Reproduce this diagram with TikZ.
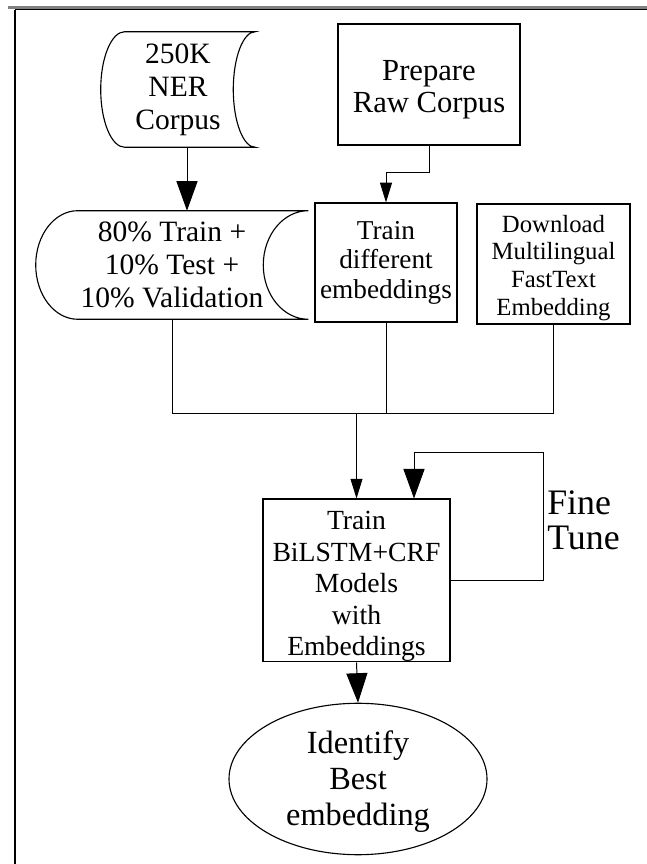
\documentclass[tikz,border=0pt]{standalone}
\usepackage{fontspec}
\setmainfont{Liberation Serif}
\usepackage{tikz}
\usetikzlibrary{arrows.meta, calc, shapes.geometric}

% outline of a stored-data node: convex left side, concave right side
\newcommand{\storeoutline}[3]{%
    \draw[line width=0.8pt] let \p1=(#1.north), \p2=(#1.south), \n1={(\y1-\y2)/2} in
        (#1.north east) arc[start angle=90, end angle=270, x radius=#3, y radius=\n1]
        -- ([xshift=#2]#1.south west) arc[start angle=270, end angle=90, x radius=#2, y radius=\n1]
        -- cycle;
}
% taller first line, pushes the text block down a little
\newcommand{\firstline}[1]{\rule{0pt}{#1}}

\tikzset{
    stepbox/.style={draw, line width=0.8pt, inner sep=0pt, align=center},
    storebox/.style={inner sep=0pt, align=center},
    link/.style={line width=0.7pt},
    arr/.style={link, -{Triangle[width=8.5pt, length=14pt]}},
    bigarr/.style={link, -{Triangle[width=15pt, length=21pt]}}
}

\begin{document}
\begin{tikzpicture}
    \useasboundingbox (0,0) rectangle (16.175,21.6);

    % page frame
    \draw[gray, line width=2pt] (0.2,21.4125) -- (16.175,21.4125);
    \draw[line width=0.7pt] (0.375,21.35) -- (16.175,21.35);
    \draw[line width=1.2pt] (0.375,21.35) -- (0.375,0);

    % Data
    \node[storebox, minimum width=3.85cm, minimum height=2.875cm, font=\fontsize{21}{23.5}\selectfont]
        (corpus) at (4.45,19.3625) {250K\\NER\\Corpus};
    \storeoutline{corpus}{0.6cm}{0.55cm}

    \node[storebox, minimum width=6.8cm, minimum height=2.7cm, font=\fontsize{21}{23.5}\selectfont]
        (split) at (4.3,14.975) {80\% Train +\\10\% Test +\\10\% Validation};
    \storeoutline{split}{1.05cm}{1.125cm}

    % Embeddings
    \node[stepbox, minimum width=4.55cm, minimum height=3.025cm, font=\fontsize{21.8}{22.7}\selectfont]
        (prep) at (10.725,19.4875) {\firstline{22pt}Prepare\\Raw Corpus};
    \node[stepbox, minimum width=3.55cm, minimum height=2.975cm, font=\fontsize{19.4}{21}\selectfont]
        (embed) at (9.65,15.0375) {Train\\different\\embeddings};
    \node[stepbox, minimum width=3.825cm, minimum height=3cm, font=\fontsize{17.6}{19.6}\selectfont]
        (fasttext) at (13.8375,15) {\firstline{17.6pt}Download\\Multilingual\\FastText\\Embedding};

    % Model
    \node[stepbox, minimum width=4.675cm, minimum height=3.775cm, font=\fontsize{19.7}{22.4}\selectfont]
        (bilstm) at (8.9125,7.0875) {\firstline{22pt}Train\\BiLSTM+CRF\\Models\\with\\Embeddings};
    \node[draw, ellipse, line width=0.8pt, inner sep=0pt, align=center,
          minimum width=6.45cm, minimum height=3.15cm, font=\fontsize{23}{25.6}\selectfont]
        (best) at (8.95,2.125) {\firstline{20pt}Identify\\Best\\embedding};
    \node[inner sep=0pt, align=left, anchor=west, font=\fontsize{25.5}{25}\selectfont]
        (tune) at (13.675,8.6) {Fine\\Tune};

    % Connectors
    \coordinate (join) at (8.9125,11.25);
    \coordinate (loop) at (13.575,10.3);

    \draw[bigarr] ([xshift=0.225cm]corpus.south) -- ([xshift=0.225cm]corpus.south |- split.north);
    \draw[arr] (prep.south) -- ++(0,-0.675) -| (embed.north);
    \draw[link] (split.south) |- (join);
    \draw[link] (embed.south) |- (join);
    \draw[link] (fasttext.south) |- (join);
    \draw[arr] (join) -- (bilstm.north);
    \draw[bigarr] (bilstm.east) -| (loop) -| ([xshift=1.4375cm]bilstm.north);
    \draw[bigarr] (bilstm.south) -- (best.north);
\end{tikzpicture}
\end{document}
